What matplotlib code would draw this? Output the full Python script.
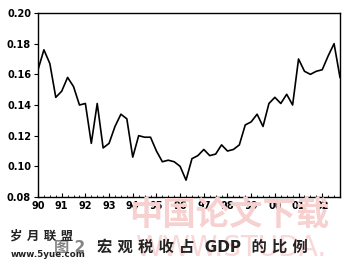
import matplotlib
matplotlib.use("Agg")
import matplotlib.pyplot as plt
from matplotlib.ticker import MultipleLocator
import numpy as np

plt.rcParams['font.family'] = ['DejaVu Sans', 'Noto Sans CJK SC']

# Quarterly macro tax share of GDP, 1990Q1 - 2002Q4
start_year = 1990
values = [0.163, 0.176, 0.167, 0.145, 0.149, 0.158, 0.152, 0.140,
          0.141, 0.115, 0.141, 0.112, 0.115, 0.126, 0.134, 0.131,
          0.106, 0.120, 0.119, 0.119, 0.110, 0.103, 0.104, 0.103,
          0.100, 0.091, 0.105, 0.107, 0.111, 0.107, 0.108, 0.114,
          0.110, 0.111, 0.114, 0.127, 0.129, 0.134, 0.126, 0.141,
          0.145, 0.141, 0.147, 0.140, 0.170, 0.162, 0.160, 0.162,
          0.163, 0.172, 0.180, 0.158]
year_labels = ['90', '91', '92', '93', '94', '95', '96', '97', '98', '99', '00', '01', '02']
y_ticks = [0.08, 0.10, 0.12, 0.14, 0.16, 0.18, 0.20]
caption = '宏 观 税 收 占  GDP  的 比 例'

x = start_year + np.arange(len(values)) / 4.0

fig = plt.figure(figsize=(3.5, 2.75), dpi=100)
ax = fig.add_axes([0.1086, 0.2836, 0.8628, 0.6691])
ax.plot(x, values, color='black', lw=1.2, zorder=3)

ax.set_xlim(x[0], x[-1])
ax.set_ylim(y_ticks[0], y_ticks[-1])
ax.set_yticks(y_ticks)
ax.set_yticklabels(['%.2f' % v for v in y_ticks], fontsize=7, fontweight='bold')
ax.set_xticks(start_year + np.arange(len(year_labels)))
ax.set_xticklabels(year_labels, fontsize=7, fontweight='bold')
ax.xaxis.set_minor_locator(MultipleLocator(0.25))
ax.tick_params(axis='x', which='major', direction='in', length=3, width=0.8, pad=3, top=False)
ax.tick_params(axis='x', which='minor', direction='in', length=1.8, width=0.6, top=False)
ax.tick_params(axis='y', which='major', direction='out', length=3, width=0.8, pad=2)
for s in ax.spines.values():
    s.set_linewidth(1.0)

# faint watermarks
fig.text(0.37, 0.215, '中国论文下载', fontsize=24, fontweight='bold', color='#f7d0d0',
         family=['Noto Sans CJK SC'], ha='left', va='center', zorder=0)
fig.text(0.385, 0.10, 'WWW.STUDA.', fontsize=20, color='#f8d8d8',
         family=['DejaVu Sans'], ha='left', va='center', zorder=0)

fig.text(0.03, 0.14, '岁 月 联 盟', fontsize=9, fontweight='bold', color='#222222',
         family=['DejaVu Sans', 'Noto Sans CJK SC'], ha='left', va='center')
fig.text(0.03, 0.075, 'www.5yue.com', fontsize=6.3, fontweight='bold', color='#222222',
         ha='left', va='center')
fig.text(0.155, 0.10, '图 2', fontsize=11, fontweight='bold', color='#333333',
         family=['DejaVu Sans', 'Noto Sans CJK SC'], ha='left', va='center', alpha=0.6)
fig.text(0.278, 0.10, caption, fontsize=11, fontweight='bold', color='#222222',
         family=['DejaVu Sans', 'Noto Sans CJK SC'], ha='left', va='center')

fig.savefig('out.png', dpi=100)
